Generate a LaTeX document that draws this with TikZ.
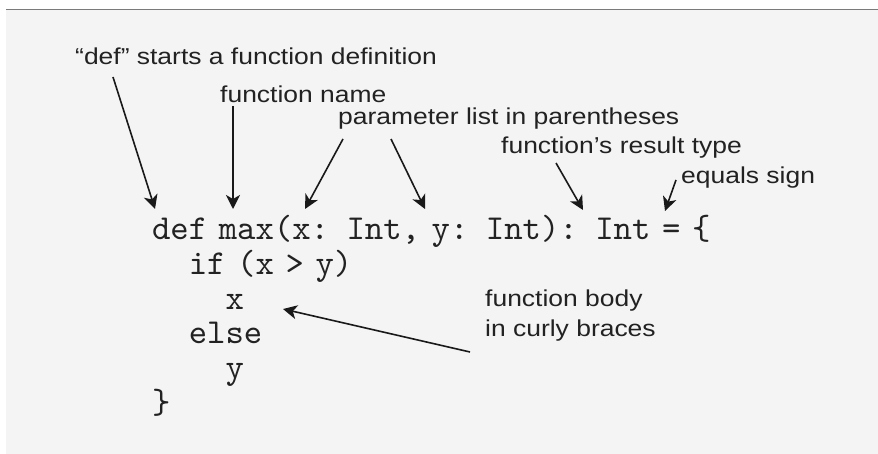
\documentclass[tikz,border=0pt]{standalone}
\usepackage{fontspec}
\usepackage{xcolor}
\usepackage{tikz}
\usetikzlibrary{positioning, calc, arrows.meta}
\newfontfamily\labelfont[FakeStretch=1.15]{Liberation Sans}
\newfontfamily\codefont{lmmono10-regular.otf}
\newcommand{\lblsize}{\fontsize{23}{30}\selectfont}
\newcommand{\codesize}{\fontsize{35}{35}\selectfont}
\definecolor{bggray}{HTML}{F4F4F4}
\definecolor{rulegray}{HTML}{7A7A7A}
\definecolor{textdark}{HTML}{222222}
\tikzstyle{codeline} = [font=\codefont\codesize, text=textdark, text width=620pt, align=left, text height=24pt, text depth=8pt, inner sep=0pt]
\tikzstyle{label} = [font=\labelfont\lblsize, text=textdark, inner sep=0pt, anchor=base west, align=left]
\tikzstyle{arrow} = [line width=1.6pt, draw=black!90, -{Stealth[length=14pt, width=14pt, inset=4pt]}]

\begin{document}
\begin{tikzpicture}[x=1pt, y=1pt, node distance=34.6pt]
		\useasboundingbox (0,0) rectangle (878,-454);
		\fill[bggray] (6,-9) rectangle (878,-454);
		\draw[rulegray, line width=1.2pt] (6,-9.6) -- (878,-9.6);
		% the code
		\node (code1) [codeline] at (462,-232) {def max(x: Int, y: Int): Int = \{};
		\node (code2) [codeline, below of=code1] {\hphantom{xx}if (x > y)};
		\node (code3) [codeline, below of=code2] {\hphantom{xxxx}x};
		\node (code4) [codeline, below of=code3] {\hphantom{xx}else};
		\node (code5) [codeline, below of=code4] {\hphantom{xxxx}y};
		\node (code6) [codeline, below of=code5] {\}};
		% the labels
		\node (deflabel) [label] at (75,-65) {“def” starts a function definition};
		\node (namelabel) [label] at (220,-103) {function name};
		\node (paramlabel) [label] at (338,-125) {parameter list in parentheses};
		\node (typelabel) [label] at (501,-154) {function’s result type};
		\node (eqlabel) [label] at (681,-184) {equals sign};
		\node (bodylabel) [label] at (485,-336) {function body\\in curly braces};
		% arrow tips
		\coordinate (defpt) at (155,-209);
		\coordinate (namept) at (233,-209);
		\coordinate (xpt) at (305,-209);
		\coordinate (ypt) at (425,-209);
		\coordinate (intpt) at (583,-210);
		\coordinate (eqpt) at (665,-211);
		\coordinate (bodypt) at (283,-309);
		\draw [arrow] ($(deflabel.base west)+(38,-12)$) -- (defpt);
		\draw [arrow] ($(namelabel.base west)+(13,-3)$) -- (namept);
		\draw [arrow] ($(paramlabel.base west)+(5,-14)$) -- (xpt);
		\draw [arrow] ($(paramlabel.base west)+(53,-14)$) -- (ypt);
		\draw [arrow] ($(typelabel.base west)+(55,-9)$) -- (intpt);
		\draw [arrow] ($(eqlabel.base west)+(-5,4)$) -- (eqpt);
		\draw [arrow] ($(bodylabel.base west)+(-15,-16)$) -- (bodypt);
\end{tikzpicture}
\end{document}
